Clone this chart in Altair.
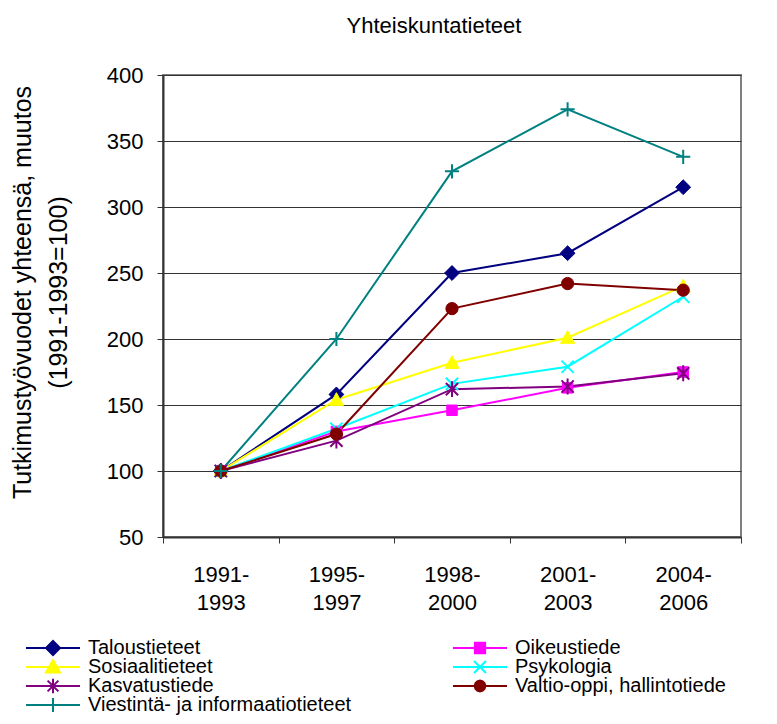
import altair as alt
import pandas as pd

# ---- data ----
periods = ["1991-1993", "1995-1997", "1998-2000", "2001-2003", "2004-2006"]
series_names = [
    "Taloustieteet",
    "Oikeustiede",
    "Sosiaalitieteet",
    "Psykologia",
    "Kasvatustiede",
    "Valtio-oppi, hallintotiede",
    "Viestintä- ja informaatiotieteet",
]
taloustieteet = [100, 158, 250, 265, 315]
oikeustiede = [100, 130, 146, 163, 175]
sosiaalitieteet = [100, 154, 182, 201, 240]
psykologia = [100, 132, 166, 179, 232]
kasvatustiede = [100, 123, 162, 164, 174]
valtio_oppi = [100, 128, 223, 242, 237]
viestinta = [100, 200, 327, 374, 338]
y_ticks = [50, 100, 150, 200, 250, 300, 350, 400]

title_text = "Yhteiskuntatieteet"
y_title = ["Tutkimustyövuodet yhteensä, muutos", "(1991-1993=100)"]

# ---- styles ----
colors = ["#000080", "#FF00FF", "#FFFF00", "#00FFFF", "#800080", "#800000", "#008080"]
marker_paths = [
    "M0,-1L1,0L0,1L-1,0Z",
    "M-1,-1L1,-1L1,1L-1,1Z",
    "M0,-1L1,0.8L-1,0.8Z",
    "M-1,-1L1,1M-1,1L1,-1",
    "M-1,-1L1,1M-1,1L1,-1M0,-1.3V1.3",
    "circle",
    "M-1,0L1,0M0,-1L0,1",
]
marker_sizes = [220, 110, 200, 150, 150, 150, 200]
marker_filled = [True, True, True, False, False, True, False]
legend_paths = [
    "M-1,0L1,0M0,-0.26L0.26,0L0,0.26L-0.26,0Z",
    "M-1,0L1,0M-0.19,-0.19L0.19,-0.19L0.19,0.19L-0.19,0.19Z",
    "M-1,0L1,0M0,-0.26L0.26,0.2L-0.26,0.2Z",
    "M-1,0L1,0M-0.22,-0.22L0.22,0.22M-0.22,0.22L0.22,-0.22",
    "M-1,0L1,0M-0.2,-0.2L0.2,0.2M-0.2,0.2L0.2,-0.2M0,-0.27L0,0.27",
    "M-1,0L1,0M-0.2,0L-0.17,-0.1L-0.1,-0.17L0,-0.2L0.1,-0.17L0.17,-0.1L0.2,0L0.17,0.1L0.1,0.17L0,0.2L-0.1,0.17L-0.17,0.1Z",
    "M-1,0L1,0M0,-0.26L0,0.26",
]
FONT = "Liberation Sans"

all_values = [taloustieteet, oikeustiede, sosiaalitieteet, psykologia,
              kasvatustiede, valtio_oppi, viestinta]
rows = []
for name, vals in zip(series_names, all_values):
    for p, v in zip(periods, vals):
        rows.append({"period": p, "series": name, "value": v})
df = pd.DataFrame(rows)

# legend entries laid out row by row in two columns (order as in the reference)
leg_rows = []
for i, name in enumerate(series_names):
    leg_rows.append({"series": name, "lcol": i % 2, "lrow": i // 2})
leg_df = pd.DataFrame(leg_rows)

x_enc = alt.X(
    "period:N",
    sort=periods,
    scale=alt.Scale(type="band", paddingInner=0, paddingOuter=0),
    axis=alt.Axis(
        title=None, labelAngle=0, tickBand="extent", grid=False,
        domainColor="#333333", domainWidth=2, tickColor="#333333",
        tickSize=6, tickWidth=1, labelFont=FONT, labelFontSize=22,
        labelColor="black", labelPadding=21, labelLineHeight=28,
        labelBaseline="top",
        # the extra band-extent tick has no value, so guard before slicing
        labelExpr="isString(datum.value) ? [slice(datum.value, 0, 5), slice(datum.value, 5)] : ''",
    ),
)
y_enc = alt.Y(
    "value:Q",
    scale=alt.Scale(domain=[50, 400], nice=False, zero=False),
    axis=alt.Axis(
        values=y_ticks, grid=True, gridColor="#333333", gridWidth=1,
        domainColor="#333333", domainWidth=2, tickColor="#333333",
        tickSize=6, tickWidth=1, labelFont=FONT, labelFontSize=22,
        labelColor="black", labelPadding=14,
        title=y_title, titleFont=FONT, titleFontSize=25,
        titleFontWeight="normal", titleColor="black", titleAngle=270,
        titleX=-128, titleY=217, titleAlign="center", titleBaseline="bottom",
        titleLineHeight=36,
    ),
)

base = alt.Chart(df)

lines = base.mark_line(strokeWidth=2).encode(
    x=x_enc, y=y_enc,
    color=alt.Color("series:N", scale=alt.Scale(domain=series_names, range=colors), legend=None),
)

point_layers = []
for name, col, path, size, filled in zip(series_names, colors, marker_paths, marker_sizes, marker_filled):
    if filled:
        mk = base.mark_point(shape=path, size=size, filled=True, fill=col, stroke=col,
                             strokeWidth=1, opacity=1)
    else:
        mk = base.mark_point(shape=path, size=size, filled=False, stroke=col,
                             strokeWidth=2, opacity=1)
    point_layers.append(mk.transform_filter(alt.datum.series == name).encode(x=x_enc, y=y_enc))

plot_group = alt.layer(lines, *point_layers)

# ---- legend below the plot, drawn from the legend table ----
lx = alt.X("lcol:Q", scale=alt.Scale(domain=[0, 1], range=[-110, 317]), axis=None)
ly = alt.Y("lrow:Q", scale=alt.Scale(domain=[0, 3], range=[573, 630]), axis=None)
leg_base = alt.Chart(leg_df)
leg_symbols = leg_base.mark_point(filled=True, size=2916, strokeWidth=2, opacity=1).encode(
    x=lx, y=ly,
    shape=alt.Shape("series:N", scale=alt.Scale(domain=series_names, range=legend_paths), legend=None),
    fill=alt.Fill("series:N", scale=alt.Scale(domain=series_names, range=colors), legend=None),
    stroke=alt.Stroke("series:N", scale=alt.Scale(domain=series_names, range=colors), legend=None),
)
leg_labels = leg_base.mark_text(align="left", baseline="middle", dx=35, font=FONT,
                                fontSize=20, color="black").encode(
    x=lx, y=ly, text="series:N",
)
legend_group = alt.layer(leg_symbols, leg_labels)

chart = alt.layer(plot_group, legend_group).resolve_scale(
    x="independent", y="independent"
).properties(
    width=578,
    height=462,
    autosize=alt.AutoSizeParams(type="none"),
    padding={"left": 155, "top": 67, "right": 28, "bottom": 179},
    title=alt.TitleParams(title_text, font=FONT, fontSize=22, fontWeight="normal",
                          color="black", anchor="middle", frame="group", dx=-18,
                          offset=9, baseline="alphabetic"),
    background="white",
).configure_view(stroke="#808080", strokeWidth=2)

chart.save("out.html", embed_options={"renderer": "svg", "actions": False})
